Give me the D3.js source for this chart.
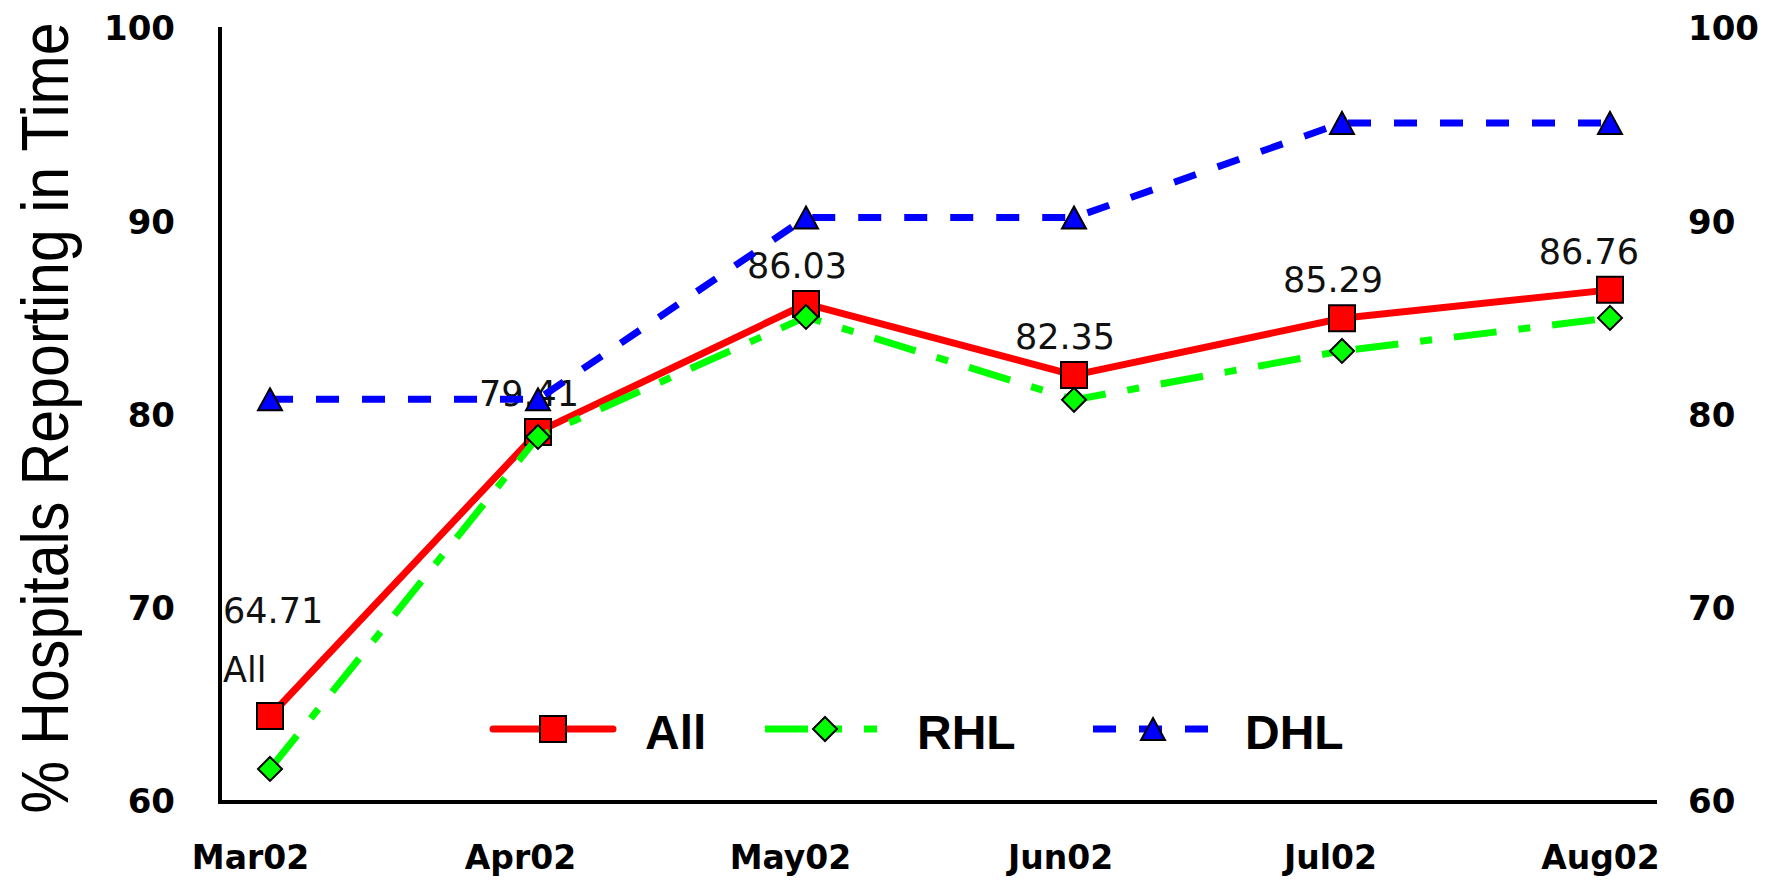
<!DOCTYPE html>
<html><head><meta charset="utf-8">
<script src="https://cdn.jsdelivr.net/npm/d3@7"></script>
<style>body{margin:0;background:#fff;overflow:hidden}</style>
</head><body><svg id="c" width="1778" height="884"></svg>
<script>
const categories = ["Mar02","Apr02","May02","Jun02","Jul02","Aug02"];
const allValues = [64.71, 79.41, 86.03, 82.35, 85.29, 86.76];
const rhlValues = [61.97, 79.15, 85.36, 81.07, 83.60, 85.31];
const dhlValues = [81.1, 81.1, 90.5, 90.5, 95.4, 95.4];
const yTicks = [60, 70, 80, 90, 100];
const seriesNames = ["All", "RHL", "DHL"];
const yTitle = "% Hospitals Reporting in Time";

const svg = d3.select("#c");
const W = 1778, H = 884;
svg.append("rect").attr("width", W).attr("height", H).attr("fill", "#fff");

const plotLeft = 220, plotRight = 1657;
const x = d3.scalePoint().domain(categories).range([270, 1610]);
const xLabel = d3.scalePoint().domain(categories).range([250, 1600]);
const y = d3.scaleLinear().domain([60, 100]).range([807, 34]);
const axisShift = -5;

// axes
const tickFont = "'DejaVu Sans', Verdana, sans-serif";
const gL = svg.append("g").attr("transform", `translate(${plotLeft},${axisShift})`)
  .call(d3.axisLeft(y).tickValues(yTicks).tickSize(0).tickPadding(45).tickFormat(d3.format("d")));
const gR = svg.append("g").attr("transform", `translate(${plotRight},${axisShift})`)
  .call(d3.axisRight(y).tickValues(yTicks).tickSize(0).tickPadding(31).tickFormat(d3.format("d")));
const gX = svg.append("g").attr("transform", `translate(0,${y(60) + axisShift})`)
  .call(d3.axisBottom(xLabel).tickSize(0).tickPadding(44));
[gL, gR, gX].forEach(g => {
  g.select(".domain").remove();
  g.selectAll("text").attr("font-family", tickFont).attr("font-weight", "bold")
    .attr("font-size", 34).attr("fill", "#000");
});
gX.selectAll("text").attr("font-size", 33);
// axis lines
svg.append("line").attr("x1", plotLeft).attr("x2", plotLeft)
  .attr("y1", y(100) + axisShift - 2).attr("y2", y(60) + axisShift + 2)
  .attr("stroke", "#000").attr("stroke-width", 4);
svg.append("line").attr("x1", plotLeft - 2).attr("x2", plotRight)
  .attr("y1", y(60) + axisShift).attr("y2", y(60) + axisShift)
  .attr("stroke", "#000").attr("stroke-width", 4);

// y title (horizontally condensed like the reference)
svg.append("text")
  .attr("transform", `translate(68,418) rotate(-90) scale(0.895,1)`)
  .attr("text-anchor", "middle")
  .attr("font-family", "'Liberation Sans', Arial, sans-serif")
  .attr("font-size", 66)
  .attr("fill", "#000").text(yTitle);

const px = (d, i) => x(categories[i]);
const line = d3.line().x(px).y(d => y(d));

const symSquare = d3.symbol().type(d3.symbolSquare).size(26 * 26);
function diamondPath(s) { return `M0,${-s}L${s},0L0,${s}L${-s},0Z`; }
function trianglePath(w, h) { return `M0,${-h / 2}L${w / 2},${h / 2}L${-w / 2},${h / 2}Z`; }

const series = [
  { name: seriesNames[0], values: allValues, color: "#ff0000", dash: null,
    marker: () => symSquare(), mfill: "#ff0000" },
  { name: seriesNames[1], values: rhlValues, color: "#00ff00", dash: "43 22 12 22",
    marker: () => diamondPath(12), mfill: "#00ff00" },
  { name: seriesNames[2], values: dhlValues, color: "#0000ff", dash: "23 23",
    marker: () => trianglePath(24, 22), mfill: "#0000ff" }
];

const labelFont = "'DejaVu Sans', Verdana, sans-serif";
const labelSize = 35;
series.forEach((s, si) => {
  const g = svg.append("g");
  g.append("path").attr("d", line(s.values)).attr("fill", "none")
    .attr("stroke", s.color).attr("stroke-width", 7)
    .attr("stroke-dasharray", s.dash).attr("stroke-linejoin", "round");
  g.selectAll("path.m").data(s.values).join("path").attr("class", "m")
    .attr("transform", (d, i) => `translate(${px(d, i)},${y(d)})`)
    .attr("d", s.marker()).attr("fill", s.mfill)
    .attr("stroke", "#000").attr("stroke-width", 2);
  if (si === 0) {
    const fmt = d3.format(".2f");
    s.values.forEach((v, i) => {
      const cx = px(v, i), cy = y(v);
      if (i === 0) {
        g.append("text").attr("x", cx - 47).attr("y", cy - 93)
          .attr("font-family", labelFont).attr("font-size", labelSize).attr("fill", "#111")
          .text(fmt(v));
        g.append("text").attr("x", cx - 47).attr("y", cy - 34)
          .attr("font-family", labelFont).attr("font-size", labelSize).attr("fill", "#111")
          .text(s.name);
      } else {
        const t = g.append("text").attr("x", cx - 9).attr("y", cy - 26)
          .attr("text-anchor", "middle")
          .attr("font-family", labelFont).attr("font-size", labelSize).attr("fill", "#111")
          .text(fmt(v));
        const w = t.node().getComputedTextLength();
        if (cx - 9 + w / 2 > plotRight - 18) {
          t.attr("text-anchor", "end").attr("x", plotRight - 18);
        }
      }
    });
  }
});

// legend
const legendY = 729;
const legendTextX = [645, 917, 1245];
series.forEach((s, i) => {
  const tx = legendTextX[i];
  const x1 = tx - 152, x2 = tx - (i === 1 ? 40 : 32), mx = (tx - 152 + tx - 32) / 2;
  svg.append("line").attr("x1", x1).attr("x2", x2).attr("y1", legendY).attr("y2", legendY)
    .attr("stroke", s.color).attr("stroke-width", 7)
    .attr("stroke-dasharray", s.dash).attr("stroke-linecap", s.dash ? "butt" : "round");
  svg.append("path").attr("transform", `translate(${mx},${legendY})`)
    .attr("d", s.marker()).attr("fill", s.mfill).attr("stroke", "#000").attr("stroke-width", 2);
  svg.append("text").attr("x", tx).attr("y", legendY + 20)
    .attr("font-family", "'Liberation Sans', Arial, sans-serif").attr("font-weight", "bold")
    .attr("font-size", 48).attr("fill", "#000").text(s.name);
});
</script></body></html>
